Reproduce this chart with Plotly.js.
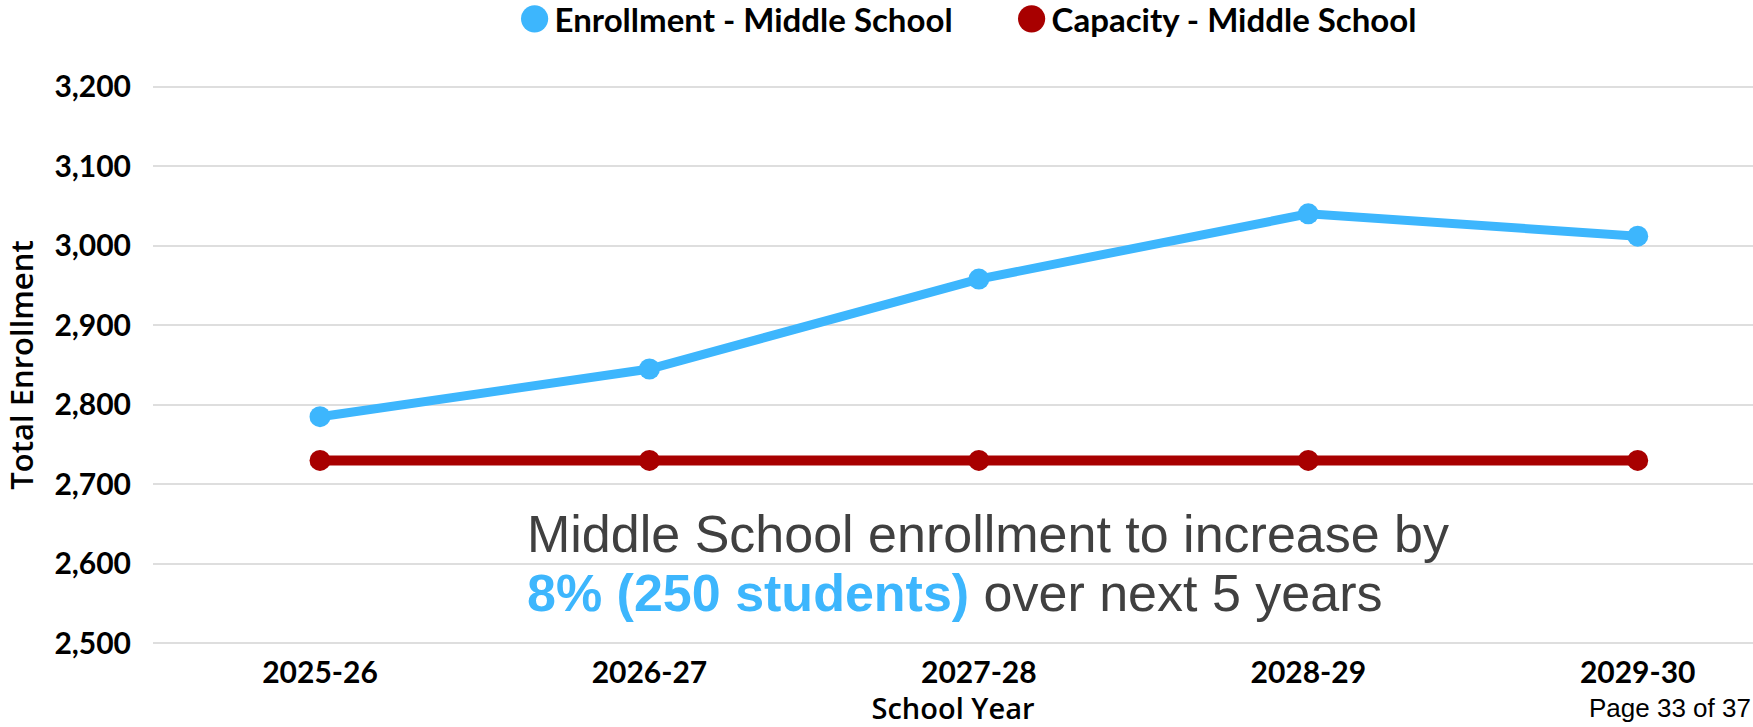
<!DOCTYPE html>
<html>
<head>
<meta charset="utf-8">
<script src="https://cdn.plot.ly/plotly-3.0.1.min.js"></script>
<style>
  html, body { margin: 0; padding: 0; background: #ffffff; }
  #chart { width: 1753px; height: 727px; }
</style>
</head>
<body>
<div id="chart"></div>
<script>
const schoolYears = ["2025-26", "2026-27", "2027-28", "2028-29", "2029-30"];
const enrollmentMiddle = [2785, 2845, 2958, 3040, 3012];
const capacityMiddle = [2730, 2730, 2730, 2730, 2730];
const yTickValues = [2500, 2600, 2700, 2800, 2900, 3000, 3100, 3200];
const seriesNames = ["Enrollment - Middle School", "Capacity - Middle School"];

const blue = "#3db6fd";
const red = "#a80000";

const traces = [
  {
    x: schoolYears, y: enrollmentMiddle, name: seriesNames[0],
    type: "scatter", mode: "lines+markers", showlegend: false,
    line: { color: blue, width: 9 },
    marker: { color: blue, size: 21 }
  },
  {
    x: schoolYears, y: capacityMiddle, name: seriesNames[1],
    type: "scatter", mode: "lines+markers", showlegend: false,
    line: { color: red, width: 10 },
    marker: { color: red, size: 21 }
  },
  {
    x: [null], y: [null], name: seriesNames[0], type: "scatter", mode: "markers",
    marker: { color: blue, size: 16 }, showlegend: true, hoverinfo: "skip"
  },
  {
    x: [null], y: [null], name: seriesNames[1], type: "scatter", mode: "markers",
    marker: { color: red, size: 16 }, showlegend: true, hoverinfo: "skip"
  }
];

const latoBold = (size) => ({ family: "Lato, 'Open Sans', sans-serif", size: size, color: "#000000", weight: 700 });
const openSemi = (size) => ({ family: "'Open Sans', Lato, sans-serif", size: size, color: "#000000", weight: 600 });

const layout = {
  width: 1753, height: 727,
  paper_bgcolor: "#ffffff", plot_bgcolor: "#ffffff",
  margin: { l: 153, r: 0, t: 85, b: 82, pad: 0, autoexpand: false },
  showlegend: true,
  legend: {
    orientation: "h",
    xref: "paper", yref: "container",
    x: 0.226, xanchor: "left",
    y: 0.974, yanchor: "middle",
    font: latoBold(33),
    itemsizing: "trace",
    entrywidth: 452, entrywidthmode: "pixels",
    bgcolor: "rgba(0,0,0,0)"
  },
  xaxis: {
    type: "category",
    range: [-0.507, 4.35],
    showgrid: false, zeroline: false, showline: false,
    ticks: "", tickfont: latoBold(30),
    ticklabelstandoff: 7,
    title: { text: "School Year", font: openSemi(29), standoff: 17 }
  },
  yaxis: {
    range: [2498, 3202],
    tickvals: yTickValues,
    tickformat: ",d",
    showgrid: true, gridcolor: "#dedede", gridwidth: 2,
    zeroline: false, showline: false,
    ticks: "", tickfont: latoBold(30),
    ticklabelstandoff: 21,
    title: { text: "Total Enrollment", font: openSemi(31), standoff: 14 }
  },
  annotations: [
    {
      xref: "paper", yref: "paper", x: 0.2325, y: 0.198,
      xanchor: "left", yanchor: "middle", align: "left", showarrow: false,
      text: "Middle School enrollment to increase by",
      font: { family: "'Liberation Sans', Arial, sans-serif", size: 52, color: "#404040" }
    },
    {
      xref: "paper", yref: "paper", x: 0.2325, y: 0.093,
      xanchor: "left", yanchor: "middle", align: "left", showarrow: false,
      text: "<b><span style='color:#3db6fd'>8% (250 students)</span></b> over next 5 years",
      font: { family: "'Liberation Sans', Arial, sans-serif", size: 52, color: "#404040" }
    },
    {
      xref: "paper", yref: "paper", x: 1, y: -0.1125,
      xanchor: "right", yanchor: "middle", align: "right", showarrow: false,
      text: "Page 33 of 37",
      font: { family: "'Liberation Sans', Arial, sans-serif", size: 26, color: "#000000" }
    }
  ]
};

Plotly.newPlot("chart", traces, layout, { displayModeBar: false, staticPlot: true }).then(function () {
  document.querySelectorAll("#chart .legend .legendpoints path.scatterpts").forEach(function (p) {
    const t = p.getAttribute("transform") || "";
    p.setAttribute("transform", t + " scale(1.7)");
  });
});
</script>
</body>
</html>
